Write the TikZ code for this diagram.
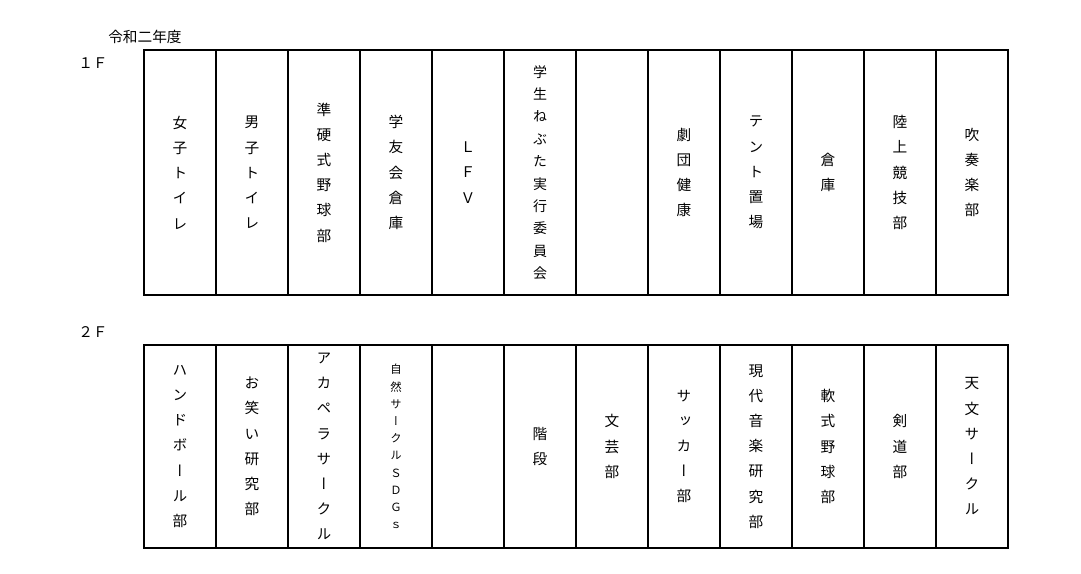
\documentclass[tikz,border=0pt]{standalone}
\usepackage{fontspec}
\setmainfont{Noto Sans CJK JP}
\newfontfamily\tate{Noto Sans CJK JP}[RawFeature=+vert]

\begin{document}
\begin{tikzpicture}[x=0.75pt,y=-0.75pt,
  upcell/.style={draw=black, line width=0.9pt, minimum width=54pt, minimum height=183.75pt,
    inner sep=0pt, align=center, font=\tate\fontsize{11}{18.9}\selectfont},
  dncell/.style={upcell, minimum height=152.25pt},
  tight/.style={font=\tate\fontsize{10.5}{16.8}\selectfont},
  tiny/.style={font=\tate\fontsize{8.5}{12.9}\selectfont},
  lbl/.style={font=\fontsize{11}{13}\selectfont, anchor=west, inner sep=0pt}]
\useasboundingbox (0,0) rectangle (1081,574);
% headings
\node[lbl] (nendo) at (108,37) {令和二年度};
\node[lbl] (floor1) at (78,63) {１Ｆ};
\node[lbl] (floor2) at (78,332) {２Ｆ};
% 1F
\node[upcell] (f1a) at (180,172.5) {女\\子\\ト\\イ\\レ};
\node[upcell] (f1b) at (252,172.5) {男\\子\\ト\\イ\\レ};
\node[upcell] (f1c) at (324,172.5) {準\\硬\\式\\野\\球\\部};
\node[upcell] (f1d) at (396,172.5) {学\\友\\会\\倉\\庫};
\node[upcell] (f1e) at (468,172.5) {Ｌ\\Ｆ\\Ｖ};
\node[upcell, tight] (f1f) at (540,172.5) {学\\生\\ね\\ぶ\\た\\実\\行\\委\\員\\会};
\node[upcell] (f1g) at (612,172.5) {};
\node[upcell] (f1h) at (684,172.5) {劇\\団\\健\\康};
\node[upcell] (f1i) at (756,172.5) {テ\\ン\\ト\\置\\場};
\node[upcell] (f1j) at (828,172.5) {倉\\庫};
\node[upcell] (f1k) at (900,172.5) {陸\\上\\競\\技\\部};
\node[upcell] (f1l) at (972,172.5) {吹\\奏\\楽\\部};
% 2F
\node[dncell] (f2a) at (180,446.5) {ハ\\ン\\ド\\ボ\\ー\\ル\\部};
\node[dncell] (f2b) at (252,446.5) {お\\笑\\い\\研\\究\\部};
\node[dncell] (f2c) at (324,446.5) {ア\\カ\\ペ\\ラ\\サ\\ー\\ク\\ル};
\node[dncell, tiny] (f2d) at (396,446.5) {自\\然\\サ\\ー\\ク\\ル\\Ｓ\\Ｄ\\Ｇ\\ｓ};
\node[dncell] (f2e) at (468,446.5) {};
\node[dncell] (f2f) at (540,446.5) {階\\段};
\node[dncell] (f2g) at (612,446.5) {文\\芸\\部};
\node[dncell] (f2h) at (684,446.5) {サ\\ッ\\カ\\ー\\部};
\node[dncell] (f2i) at (756,446.5) {現\\代\\音\\楽\\研\\究\\部};
\node[dncell] (f2j) at (828,446.5) {軟\\式\\野\\球\\部};
\node[dncell] (f2k) at (900,446.5) {剣\\道\\部};
\node[dncell] (f2l) at (972,446.5) {天\\文\\サ\\ー\\ク\\ル};
\end{tikzpicture}
\end{document}
